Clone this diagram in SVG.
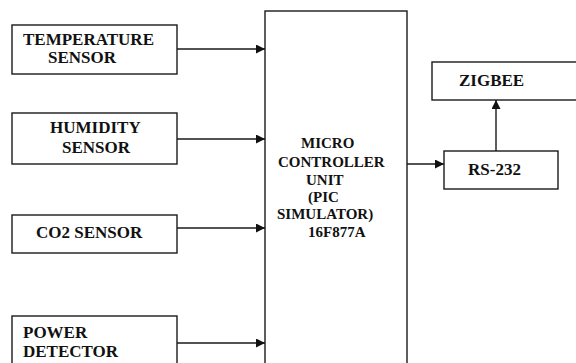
<svg xmlns="http://www.w3.org/2000/svg" width="576" height="363" viewBox="0 0 576 363">
  <style>
    .box { fill: #ffffff; stroke: #1a1a1a; stroke-width: 1.4; }
    .wire { stroke: #1a1a1a; stroke-width: 1.4; fill: none; marker-end: url(#arrow); }
  </style>
  <defs>
    <marker id="arrow" viewBox="0 0 10 10" refX="10" refY="5" markerWidth="9" markerHeight="9" markerUnits="userSpaceOnUse" orient="auto">
      <path d="M0,0 L10,5 L0,10 z" fill="#111111"/>
    </marker>
  </defs>
  <rect width="576" height="363" fill="#ffffff"/>

  <g font-family="Liberation Serif" font-weight="bold" font-size="17" fill="#111111">
    <g id="temperature-sensor">
      <rect class="box" x="12" y="25" width="165" height="49"/>
      <text x="23" y="44.5" font-family="Liberation Serif">TEMPERATURE</text>
      <text x="48" y="63" font-family="Liberation Serif">SENSOR</text>
    </g>

    <g id="humidity-sensor">
      <rect class="box" x="12" y="113" width="165" height="51"/>
      <text x="50" y="133" font-family="Liberation Serif">HUMIDITY</text>
      <text x="62" y="153" font-family="Liberation Serif">SENSOR</text>
    </g>

    <g id="co2-sensor">
      <rect class="box" x="12" y="215" width="165" height="38"/>
      <text x="36" y="238" font-family="Liberation Serif">CO2 SENSOR</text>
    </g>

    <g id="power-detector">
      <rect class="box" x="12" y="316" width="165" height="60"/>
      <text x="23" y="338" font-family="Liberation Serif">POWER</text>
      <text x="23" y="357" font-family="Liberation Serif">DETECTOR</text>
    </g>

    <g id="mcu" font-size="15">
      <rect class="box" x="265" y="11" width="142" height="370"/>
      <text x="301" y="148" font-family="Liberation Serif">MICRO</text>
      <text x="278" y="167" font-family="Liberation Serif">CONTROLLER</text>
      <text x="306" y="185" font-family="Liberation Serif">UNIT</text>
      <text x="308" y="202" font-family="Liberation Serif">(PIC</text>
      <text x="277" y="219" font-family="Liberation Serif">SIMULATOR)</text>
      <text x="308" y="237" font-family="Liberation Serif">16F877A</text>
    </g>

    <g id="zigbee">
      <rect class="box" x="432" y="62" width="150" height="38"/>
      <text x="459" y="86" font-family="Liberation Serif">ZIGBEE</text>
    </g>

    <g id="rs232">
      <rect class="box" x="444" y="151" width="114" height="38"/>
      <text x="468" y="175" font-family="Liberation Serif">RS-232</text>
    </g>
  </g>

  <g id="connectors">
    <line class="wire" x1="177" y1="49" x2="265" y2="49"/>
    <line class="wire" x1="177" y1="139" x2="265" y2="139"/>
    <line class="wire" x1="177" y1="228" x2="265" y2="228"/>
    <line class="wire" x1="177" y1="343" x2="265" y2="343"/>
    <line class="wire" x1="407" y1="164" x2="444" y2="164"/>
    <line class="wire" x1="496" y1="151" x2="496" y2="100"/>
  </g>
</svg>
